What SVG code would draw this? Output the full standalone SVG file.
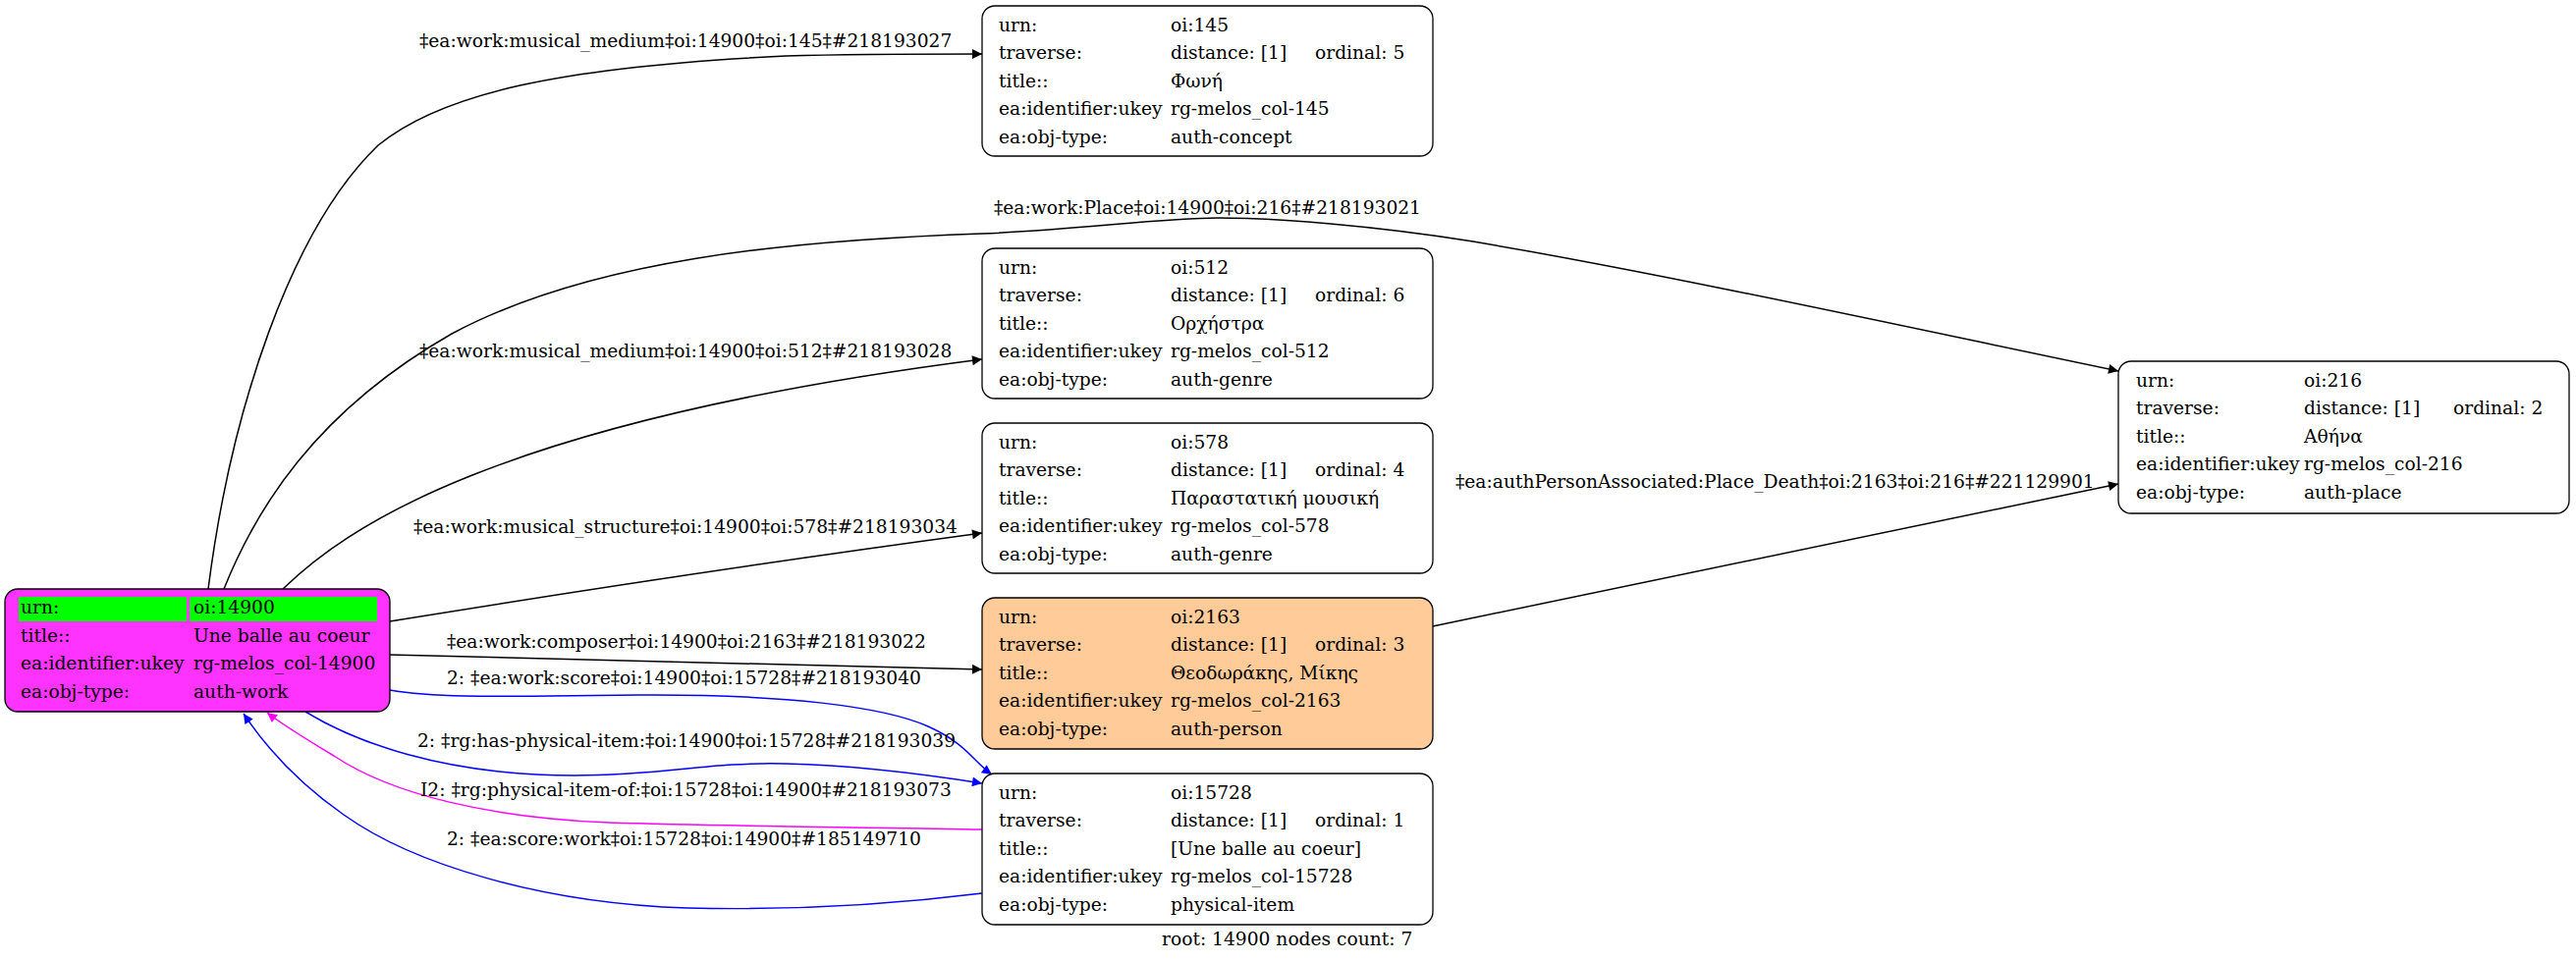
<svg xmlns="http://www.w3.org/2000/svg" width="2623" height="979" viewBox="0 0 2623 979">
<style>
text { font-family: "DejaVu Serif", "Liberation Serif", serif; font-size: 18.67px; fill: #000; }
.box { fill: #fff; stroke: #000; stroke-width: 1.3; }
.e { fill: none; stroke-width: 1.5; }
.k { stroke: #000; }
.b { stroke: #0000ff; }
.m { stroke: #ff00ff; }
</style>
<defs>
<marker id="ak" viewBox="0 0 10 10" refX="10" refY="5" markerWidth="14" markerHeight="10" markerUnits="userSpaceOnUse" orient="auto"><path d="M0,0 L10,5 L0,10 z" fill="#000"/></marker>
<marker id="ab" viewBox="0 0 10 10" refX="10" refY="5" markerWidth="14" markerHeight="10" markerUnits="userSpaceOnUse" orient="auto"><path d="M0,0 L10,5 L0,10 z" fill="#0000ff"/></marker>
<marker id="am" viewBox="0 0 10 10" refX="10" refY="5" markerWidth="14" markerHeight="10" markerUnits="userSpaceOnUse" orient="auto"><path d="M0,0 L10,5 L0,10 z" fill="#ff00ff"/></marker>
</defs>
<rect width="2623" height="979" fill="#fff"/>

<g id="connectors">
<path class="e k" marker-end="url(#ak)" d="M212,600 C235,420 295,235 385,148 C450,95 570,68 800,57 C870,55 950,55 1000,55"/>
<text x="427" y="48">‡ea:work:musical_medium‡oi:14900‡oi:145‡#218193027</text>

<path class="e k" marker-end="url(#ak)" d="M228,600 C260,520 320,420 460,340 C600,265 800,245 1000,238 C1100,234 1180,222 1240,222 C1300,222 1400,230 1500,246 C1700,280 1950,335 2157,378"/>
<text x="1012" y="218">‡ea:work:Place‡oi:14900‡oi:216‡#218193021</text>

<path class="e k" marker-end="url(#ak)" d="M288,600 C350,540 500,430 1000,366"/>
<text x="427" y="364">‡ea:work:musical_medium‡oi:14900‡oi:512‡#218193028</text>

<path class="e k" marker-end="url(#ak)" d="M397,633 C600,600 800,570 1000,543"/>
<text x="421" y="543">‡ea:work:musical_structure‡oi:14900‡oi:578‡#218193034</text>

<path class="e k" marker-end="url(#ak)" d="M397,667 C600,672 800,678 1000,682"/>
<text x="455" y="660">‡ea:work:composer‡oi:14900‡oi:2163‡#218193022</text>

<path class="e b" marker-end="url(#ab)" d="M397,703 C450,712 520,709 650,708 C800,707 900,720 945,740 C985,758 990,775 1010,789"/>
<text x="455" y="697">2: ‡ea:work:score‡oi:14900‡oi:15728‡#218193040</text>

<path class="e b" marker-end="url(#ab)" d="M311,725 C360,755 450,790 585,790 C680,790 720,776 800,778 C880,780 950,790 1000,798"/>
<text x="425" y="761">2: ‡rg:has-physical-item:‡oi:14900‡oi:15728‡#218193039</text>

<path class="e m" marker-end="url(#am)" d="M1000,845 C900,843 750,842 620,838 C500,833 400,810 340,770 C310,752 290,740 272,726"/>
<text x="428" y="811">I2: ‡rg:physical-item-of:‡oi:15728‡oi:14900‡#218193073</text>

<path class="e b" marker-end="url(#ab)" d="M1000,910 C920,920 820,928 700,925 C550,920 420,880 350,830 C300,795 270,760 248,727"/>
<text x="455" y="861">2: ‡ea:score:work‡oi:15728‡oi:14900‡#185149710</text>

<path class="e k" marker-end="url(#ak)" d="M1459,638 L2157,493"/>
<text x="1482" y="497">‡ea:authPersonAssociated:Place_Death‡oi:2163‡oi:216‡#221129901</text>
</g>

<g id="n14900">
<rect x="5" y="600" width="392" height="125" rx="13" fill="#ff33ff" stroke="#000" stroke-width="1.3"/>
<rect x="19" y="608" width="171" height="25" fill="#00ff00"/>
<rect x="193" y="608" width="191" height="25" fill="#00ff00"/>
<text x="21" y="625">urn:</text><text x="197" y="625">oi:14900</text>
<text x="21" y="653.5">title::</text><text x="197" y="653.5">Une balle au coeur</text>
<text x="21" y="682">ea:identifier:ukey</text><text x="197" y="682">rg-melos_col-14900</text>
<text x="21" y="710.5">ea:obj-type:</text><text x="197" y="710.5">auth-work</text>
</g>

<g id="n145">
<rect class="box" x="1000" y="6" width="459" height="153" rx="13"/>
<text x="1017" y="31.5">urn:</text><text x="1192" y="31.5">oi:145</text>
<text x="1017" y="60.1">traverse:</text><text x="1192" y="60.1">distance: [1]</text><text x="1339" y="60.1">ordinal: 5</text>
<text x="1017" y="88.7">title::</text><text x="1192" y="88.7">Φωνή</text>
<text x="1017" y="117.3">ea:identifier:ukey</text><text x="1192" y="117.3">rg-melos_col-145</text>
<text x="1017" y="145.9">ea:obj-type:</text><text x="1192" y="145.9">auth-concept</text>
</g>

<g id="n512">
<rect class="box" x="1000" y="253" width="459" height="153" rx="13"/>
<text x="1017" y="278.5">urn:</text><text x="1192" y="278.5">oi:512</text>
<text x="1017" y="307.1">traverse:</text><text x="1192" y="307.1">distance: [1]</text><text x="1339" y="307.1">ordinal: 6</text>
<text x="1017" y="335.7">title::</text><text x="1192" y="335.7">Ορχήστρα</text>
<text x="1017" y="364.3">ea:identifier:ukey</text><text x="1192" y="364.3">rg-melos_col-512</text>
<text x="1017" y="392.9">ea:obj-type:</text><text x="1192" y="392.9">auth-genre</text>
</g>

<g id="n578">
<rect class="box" x="1000" y="431" width="459" height="153" rx="13"/>
<text x="1017" y="456.5">urn:</text><text x="1192" y="456.5">oi:578</text>
<text x="1017" y="485.1">traverse:</text><text x="1192" y="485.1">distance: [1]</text><text x="1339" y="485.1">ordinal: 4</text>
<text x="1017" y="513.7">title::</text><text x="1192" y="513.7">Παραστατική μουσική</text>
<text x="1017" y="542.3">ea:identifier:ukey</text><text x="1192" y="542.3">rg-melos_col-578</text>
<text x="1017" y="570.9">ea:obj-type:</text><text x="1192" y="570.9">auth-genre</text>
</g>

<g id="n2163">
<rect x="1000" y="609" width="459" height="154" rx="13" fill="#ffcc99" stroke="#000" stroke-width="1.3"/>
<text x="1017" y="634.5">urn:</text><text x="1192" y="634.5">oi:2163</text>
<text x="1017" y="663.1">traverse:</text><text x="1192" y="663.1">distance: [1]</text><text x="1339" y="663.1">ordinal: 3</text>
<text x="1017" y="691.7">title::</text><text x="1192" y="691.7">Θεοδωράκης, Μίκης</text>
<text x="1017" y="720.3">ea:identifier:ukey</text><text x="1192" y="720.3">rg-melos_col-2163</text>
<text x="1017" y="748.9">ea:obj-type:</text><text x="1192" y="748.9">auth-person</text>
</g>

<g id="n15728">
<rect class="box" x="1000" y="788" width="459" height="154" rx="13"/>
<text x="1017" y="813.5">urn:</text><text x="1192" y="813.5">oi:15728</text>
<text x="1017" y="842.1">traverse:</text><text x="1192" y="842.1">distance: [1]</text><text x="1339" y="842.1">ordinal: 1</text>
<text x="1017" y="870.7">title::</text><text x="1192" y="870.7">[Une balle au coeur]</text>
<text x="1017" y="899.3">ea:identifier:ukey</text><text x="1192" y="899.3">rg-melos_col-15728</text>
<text x="1017" y="927.9">ea:obj-type:</text><text x="1192" y="927.9">physical-item</text>
</g>

<g id="n216">
<rect class="box" x="2157" y="368" width="459" height="155" rx="13"/>
<text x="2175" y="393.5">urn:</text><text x="2346" y="393.5">oi:216</text>
<text x="2175" y="422.1">traverse:</text><text x="2346" y="422.1">distance: [1]</text><text x="2498" y="422.1">ordinal: 2</text>
<text x="2175" y="450.7">title::</text><text x="2346" y="450.7">Αθήνα</text>
<text x="2175" y="479.3">ea:identifier:ukey</text><text x="2346" y="479.3">rg-melos_col-216</text>
<text x="2175" y="507.9">ea:obj-type:</text><text x="2346" y="507.9">auth-place</text>
</g>

<g id="footer">
<text x="1183" y="963">root: 14900 nodes count: 7</text>
</g>
</svg>
